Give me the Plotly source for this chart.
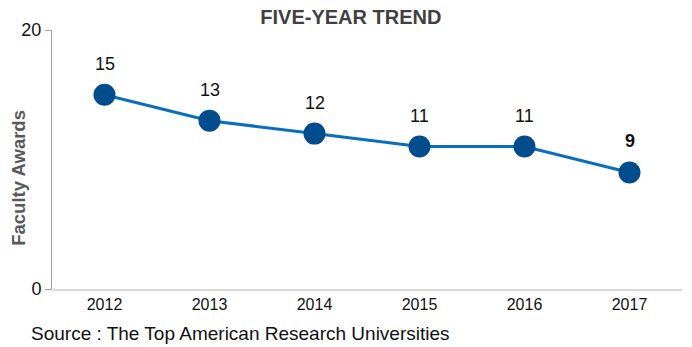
import plotly.graph_objects as go

years = ["2012", "2013", "2014", "2015", "2016", "2017"]
awards = [15, 13, 12, 11, 11, 9]
labels = ["15", "13", "12", "11", "11", "<b>9</b>"]
y_ticks = [0, 20]
title_text = "FIVE-YEAR TREND"
y_title = "Faculty Awards"
source_text = "Source : The Top American Research Universities"

fig = go.Figure()
fig.add_trace(go.Scatter(
    x=years, y=awards, mode="lines+markers",
    line=dict(color="#0A6EBD", width=3),
    marker=dict(color="#004C8C", size=22),
    cliponaxis=False, hoverinfo="skip",
))

annotations = [dict(x=i, y=yv, text=t, showarrow=False, xref="x", yref="y",
                    yshift=31, font=dict(family="Liberation Sans, Arial", size=18, color="#111111"))
               for i, (yv, t) in enumerate(zip(awards, labels))]
annotations.append(dict(text=source_text, xref="paper", yref="paper", x=-0.036, y=-0.125,
                        xanchor="left", yanchor="top", showarrow=False,
                        font=dict(size=19, color="#111111")))
annotations.append(dict(text="<b>" + y_title + "</b>", xref="paper", yref="paper",
                        x=-0.053, y=0.428, xanchor="center", yanchor="middle", textangle=-90,
                        showarrow=False, font=dict(size=18.5, color="#595959")))

fig.update_layout(
    width=692, height=347,
    margin=dict(l=52, r=10, t=30, b=58),
    paper_bgcolor="white", plot_bgcolor="white",
    showlegend=False,
    font=dict(family="Liberation Sans, Arial", color="#222222"),
    title=dict(text="<b>" + title_text + "</b>", x=0.507, xanchor="center", y=0.95, yanchor="middle",
               font=dict(family="Liberation Sans, Arial", size=20, color="#404040")),
    xaxis=dict(type="category", range=[-0.5, 5.5], showgrid=False, automargin=False,
               showline=True, linecolor="#D9D9D9", linewidth=1.5,
               ticks="", tickfont=dict(size=16, color="#111111"), fixedrange=True),
    yaxis=dict(range=[0, 20], tickvals=y_ticks, showgrid=False, zeroline=False, automargin=False,
               showline=True, linecolor="#A0A0A0", linewidth=1,
               ticks="outside", ticklen=6, tickcolor="#A0A0A0",
               tickfont=dict(size=18, color="#111111")),
    annotations=annotations,
)

fig.write_html("out.html", config={"displayModeBar": False},
               post_script="document.body.style.margin='0px';")
